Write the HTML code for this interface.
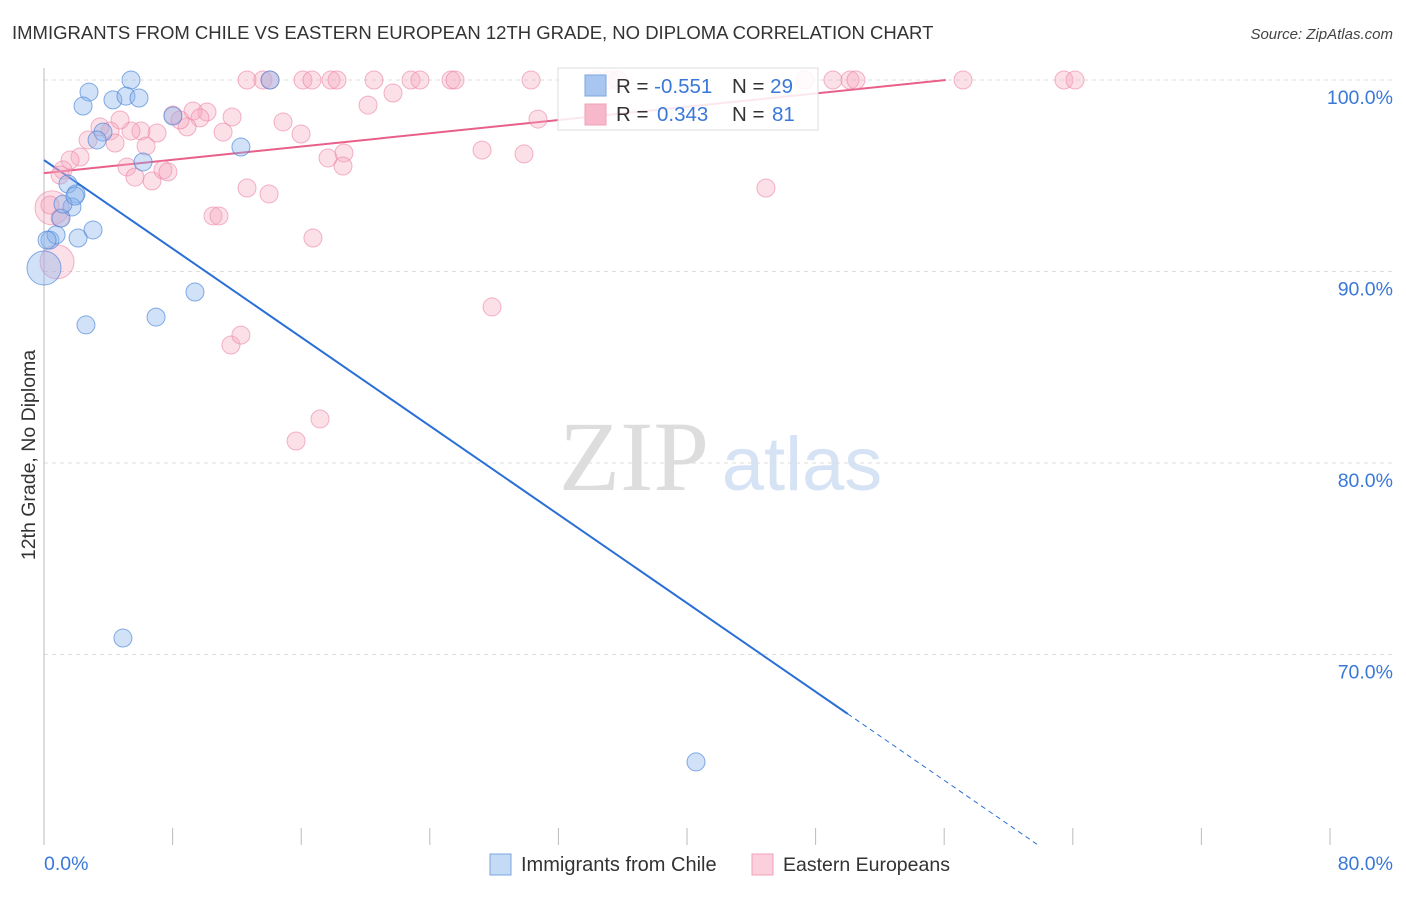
<!DOCTYPE html>
<html><head><meta charset="utf-8"><style>
body{margin:0;background:#fff;width:1406px;height:892px;overflow:hidden;font-family:"Liberation Sans",sans-serif}
</style></head><body>
<svg id="chart" width="1406" height="892" xmlns="http://www.w3.org/2000/svg" font-family="Liberation Sans, sans-serif">
<text x="12" y="39" font-size="18.5" fill="#333">IMMIGRANTS FROM CHILE VS EASTERN EUROPEAN 12TH GRADE, NO DIPLOMA CORRELATION CHART</text>
<text x="1393" y="39" font-size="15" font-style="italic" fill="#444" text-anchor="end">Source: ZipAtlas.com</text>
<g>
<text x="634" y="490" font-family="Liberation Serif, serif" font-size="100" fill="#ddd" text-anchor="middle">ZIP</text>
<text x="802" y="490" font-size="76" fill="#d5e3f5" text-anchor="middle">atlas</text>
</g>
<g id="grid"></g><g id="axes"></g><g id="lines"></g><g id="pts"></g>
<text transform="translate(35,455) rotate(-90)" font-size="19.5" fill="#333" text-anchor="middle">12th Grade, No Diploma</text>
<g>
<rect x="558" y="68" width="260" height="62" fill="#fff" fill-opacity="0.85" stroke="#ddd"/>
<rect x="585" y="75" width="21" height="21" fill="#a9c6f0" stroke="#7aa5e0"/>
<rect x="585" y="104" width="21" height="21" fill="#f8b8cb" stroke="#f0a0b8"/>
<text x="616" y="93" font-size="20.5" fill="#333">R = <tspan fill="#3a78d8">-0.551</tspan><tspan x="732">N = </tspan><tspan fill="#3a78d8">29</tspan></text>
<text x="616" y="121" font-size="20.5" fill="#333">R = <tspan fill="#3a78d8" x="657">0.343</tspan><tspan x="732">N = </tspan><tspan fill="#3a78d8" x="772">81</tspan></text>
</g>
<g>
<rect x="490" y="854" width="21" height="21" fill="#c5daf5" stroke="#7aa5e0"/>
<text x="521" y="871" font-size="20" fill="#333">Immigrants from Chile</text>
<rect x="752" y="854" width="21" height="21" fill="#fbd0dc" stroke="#f0a0b8"/>
<text x="783" y="871" font-size="19.5" fill="#333">Eastern Europeans</text>
</g>
</svg>
<script>
const blueX=[5.41,2.80,2.43,4.29,5.10,5.91,8.02,12.25,6.16,3.67,3.30,1.49,1.99,1.74,1.06,1.18,0.37,0.75,2.12,3.05,0,9.39,6.97,2.61,4.91,40.56,14.06,0.19,1.93];
const blueY=[100,99.37,98.64,98.96,99.16,99.06,98.12,96.50,95.72,97.28,96.87,94.57,94.05,93.37,92.79,93.52,91.64,91.91,91.75,92.17,90.18,88.93,87.62,87.21,70.86,64.39,100,91.64,93.94];
const blueBig=[20];
const pinkX=[12.63,13.62,14.06,16.11,16.67,17.85,18.23,20.53,22.83,23.39,25.32,25.57,30.30,34.28,35.21,35.71,47.34,49.08,50.14,50.51,57.17,63.45,64.14,
20.16,14.87,15.99,11.70,11.14,10.14,9.27,9.70,8.90,8.02,8.46,7.03,6.03,5.41,4.73,4.11,3.48,2.74,2.24,1.62,1.18,1.00,4.42,6.35,5.16,5.66,6.72,7.40,7.71,12.63,14.00,17.67,18.66,18.60,10.51,10.89,16.73,11.63,12.25,0.50,1.00,0.81,0.37,15.68,17.17,27.87,27.25,29.86,44.91,30.73,21.71];
const pinkY=[100,100,100,100,100,100,100,100,100,100,100,100,100,100,100,100,100,100,100,100,100,100,100,
98.69,97.81,97.18,98.07,97.28,98.33,98.38,98.02,97.55,98.17,97.91,97.23,97.34,97.34,97.91,97.34,97.55,96.87,95.98,95.82,95.30,95.04,96.71,96.55,95.46,94.93,94.73,95.30,95.20,94.36,94.05,95.93,96.19,95.51,92.90,92.90,91.75,86.16,86.68,93.32,92.79,90.50,93.47,81.15,82.30,88.15,96.34,96.14,94.36,97.96,99.32];
const pinkBig=[62,64];
const blueLine=[95.82,-0.5784,50,61.77];
const pinkLine=[95.14,0.0866,56.1];
const yTicks=[100,90,80,70];
const xTicks=[0,8,16,24,32,40,48,56,64,72,80];
const NS="http://www.w3.org/2000/svg";
const sx=v=>44+v*16.075, sy=v=>80+(100-v)*19.15;
function mk(p,t,a){const e=document.createElementNS(NS,t);for(const k in a)e.setAttribute(k,a[k]);document.getElementById(p).appendChild(e);return e;}
yTicks.forEach(t=>{
 const g=mk('grid','line',{x1:44,x2:1393,y1:sy(t),y2:sy(t),stroke:'#ddd','stroke-dasharray':'4,4'});
 
 
 const l=mk('grid','text',{x:1393,y:sy(t)+24,'font-size':19.5,fill:'#3a78d8','text-anchor':'end'});
 
 
 l.textContent=t.toFixed(1)+'%';
});
const ax=mk('axes','line',{x1:44,x2:44,y1:68,y2:845,stroke:'#bbb'});


xTicks.forEach(t=>{
 const k=mk('axes','line',{x1:sx(t),x2:sx(t),y1:828,y2:845,stroke:'#bbb'});
 
 
});
[[0,'start',44],[80,'end',1393]].forEach(([v,a,x])=>{
 const l=mk('axes','text',{x:x,y:870,'font-size':19.5,fill:'#3a78d8','text-anchor':a});
 
 
 l.textContent=v.toFixed(1)+'%';
});
pinkX.forEach((x,i)=>{
 const c=mk('pts','circle',{cx:sx(x),cy:sy(pinkY[i]),r:pinkBig.includes(i)?17:9,fill:'rgba(245,165,190,0.35)',stroke:'rgba(235,130,165,0.6)','stroke-width':1});
 
 
});
blueX.forEach((x,i)=>{
 const c=mk('pts','circle',{cx:sx(x),cy:sy(blueY[i]),r:blueBig.includes(i)?17:9,fill:'rgba(140,180,235,0.4)',stroke:'rgba(70,130,215,0.65)','stroke-width':1});
 
 
});
const bl=v=>blueLine[0]+blueLine[1]*v;
const b1=mk('lines','line',{x1:sx(0),y1:sy(bl(0)),x2:sx(blueLine[2]),y2:sy(bl(blueLine[2])),stroke:'#2a6fd6','stroke-width':2});


const b2=mk('lines','line',{x1:sx(blueLine[2]),y1:sy(bl(blueLine[2])),x2:sx(blueLine[3]),y2:sy(bl(blueLine[3])),stroke:'#2a6fd6','stroke-width':1,'stroke-dasharray':'5,4'});


const pl=v=>pinkLine[0]+pinkLine[1]*v;
const p1=mk('lines','line',{x1:sx(0),y1:sy(pl(0)),x2:sx(pinkLine[2]),y2:sy(pl(pinkLine[2])),stroke:'#e8608a','stroke-width':2});


</script>
</body></html>
